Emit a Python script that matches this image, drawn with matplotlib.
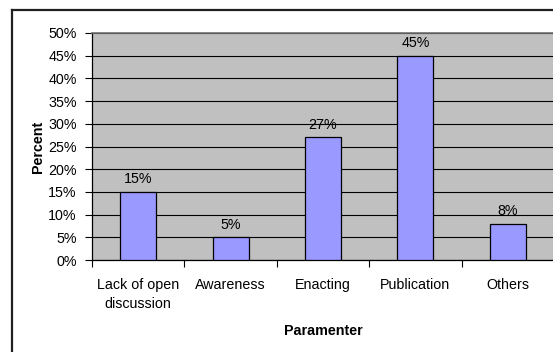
import matplotlib.pyplot as plt
from matplotlib.lines import Line2D
import numpy as np

plt.rcParams['font.family'] = ['Liberation Sans', 'DejaVu Sans']

categories = ['Lack of open\ndiscussion', 'Awareness', 'Enacting', 'Publication', 'Others']
percent = [15, 5, 27, 45, 8]
yticks = [0, 5, 10, 15, 20, 25, 30, 35, 40, 45, 50]

W, H = 553, 352
FS = 10.3
fig = plt.figure(figsize=(W / 100, H / 100), dpi=100)
fig.patch.set_facecolor('white')

# chart-area border (only left and top show, the rest runs off the page)
fig.add_artist(Line2D([12 / W, 12 / W], [-0.1, 1 - 9.5 / H], transform=fig.transFigure,
                      color='#202020', lw=1.6))
fig.add_artist(Line2D([12 / W, 1.1], [1 - 9.5 / H, 1 - 9.5 / H], transform=fig.transFigure,
                      color='#202020', lw=1.6))

ax = fig.add_axes([92 / W, (H - 260) / H, (554 - 92) / W, (260 - 33) / H])
ax.set_facecolor('#C0C0C0')

x = np.arange(len(categories))
ax.bar(x, percent, width=0.39, color='#9999FF', edgecolor='black', linewidth=0.9, zorder=3)
for xi, v in zip(x, percent):
    ax.text(xi, v + 1.2, f'{v}%', ha='center', va='bottom', fontsize=FS, zorder=4)

ax.set_xlim(-0.5, len(categories) - 0.5)
ax.set_ylim(0, 50)
ax.set_yticks(yticks)
ax.set_yticklabels([f'{t}%' for t in yticks], fontsize=FS)
ax.yaxis.grid(True, color='black', lw=0.8, zorder=1)
ax.set_axisbelow(True)

# boundary ticks between categories, labels centred under the bars
ax.set_xticks(np.arange(len(categories) + 1) - 0.5)
ax.set_xticklabels([])
ax.set_xticks(x, minor=True)
ax.set_xticklabels(categories, minor=True, fontsize=FS, linespacing=1.45)
ax.tick_params(axis='x', which='minor', length=0, pad=13)
ax.tick_params(axis='x', which='major', length=5, width=0.8, direction='out')
ax.tick_params(axis='y', length=5, width=0.8, pad=6)

for s in ['left', 'bottom']:
    ax.spines[s].set_color('black')
    ax.spines[s].set_linewidth(0.9)
ax.spines['top'].set_color('#707070')
ax.spines['top'].set_linewidth(1.2)
ax.spines['right'].set_visible(False)

ax.set_ylabel('Percent', fontsize=FS, fontweight='bold', labelpad=2)
ax.set_xlabel('Paramenter', fontsize=FS, fontweight='bold', labelpad=9)

fig.savefig('out.png', dpi=100)
